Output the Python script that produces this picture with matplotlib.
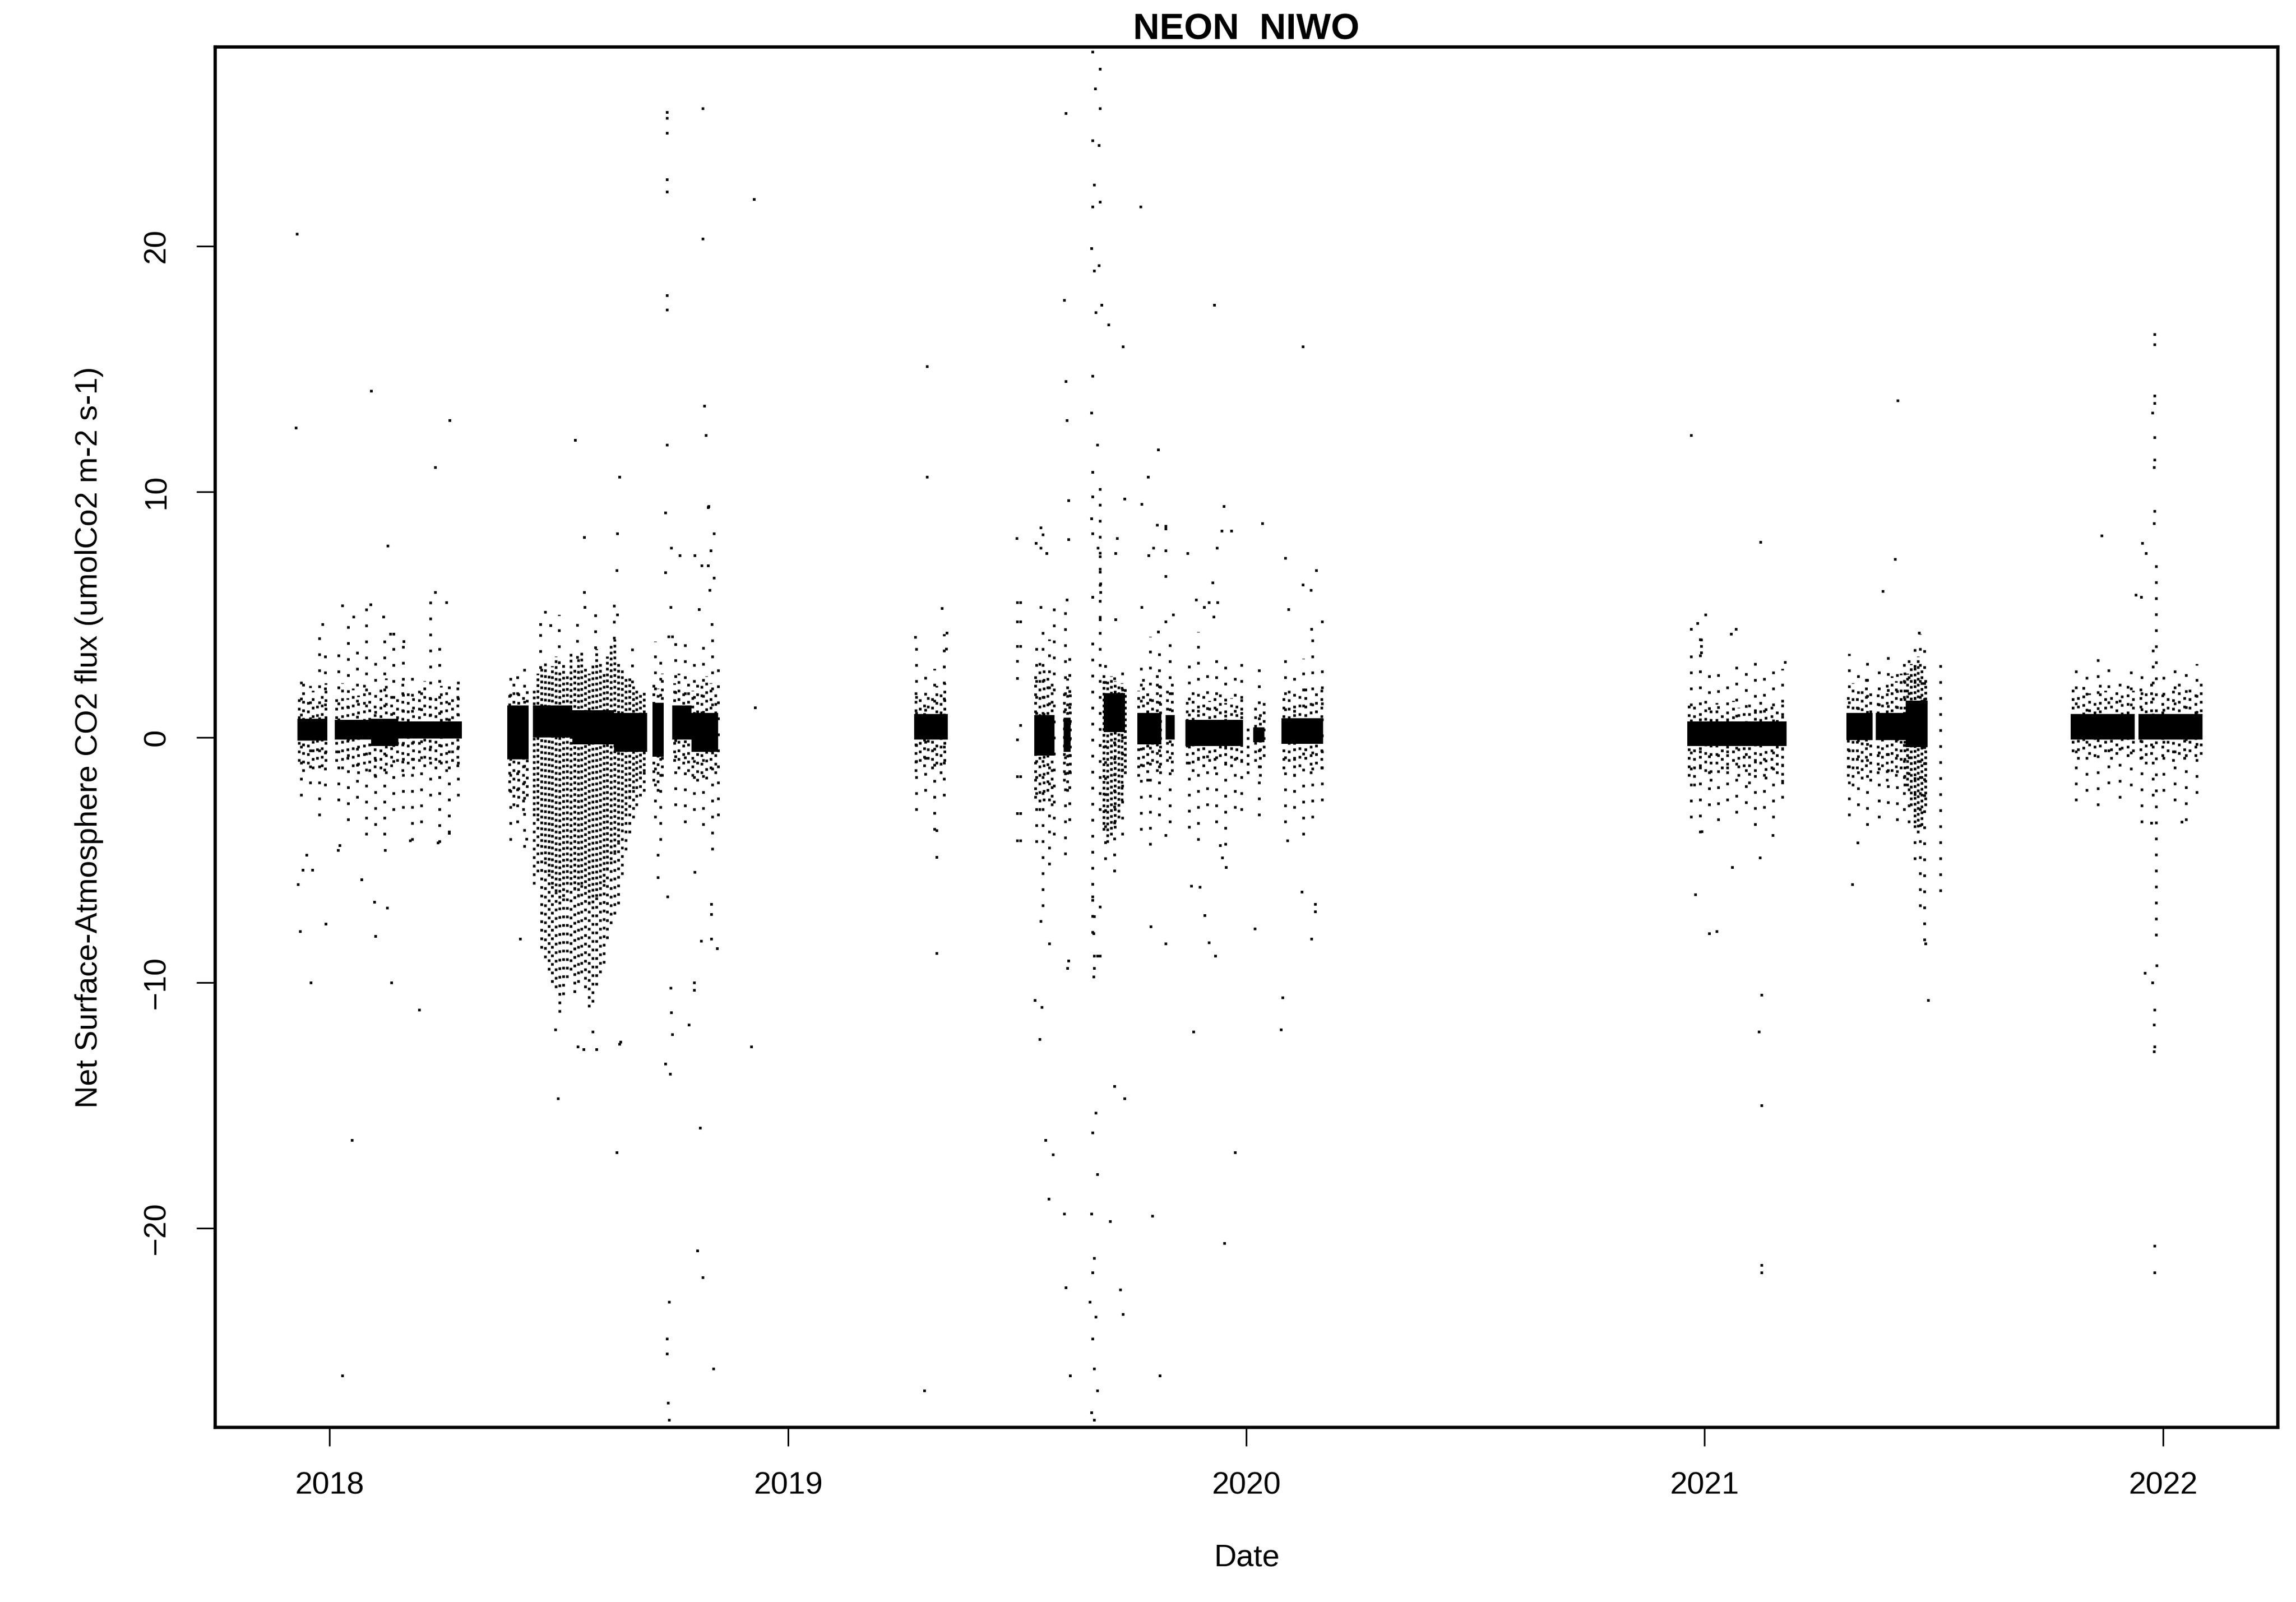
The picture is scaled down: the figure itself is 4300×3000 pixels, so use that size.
import numpy as np
import matplotlib.pyplot as plt

plt.rcParams['font.family'] = ['Liberation Sans', 'DejaVu Sans']

# time axis in decimal years, flux in umol CO2 m-2 s-1

# solid blocks of half-hourly values around zero: (start, end, low, high)
core_bands = [
    (2017.930, 2017.995, -0.15, 0.75),
    (2018.011, 2018.090, -0.10, 0.70),
    (2018.090, 2018.150, -0.35, 0.75),
    (2018.150, 2018.289, -0.05, 0.65),
    (2018.388, 2018.434, -0.90, 1.30),
    (2018.444, 2018.530, 0.00, 1.30),
    (2018.530, 2018.620, -0.30, 1.10),
    (2018.620, 2018.693, -0.60, 1.00),
    (2018.704, 2018.729, -0.80, 1.40),
    (2018.747, 2018.790, -0.10, 1.30),
    (2018.790, 2018.848, -0.60, 1.00),
    (2019.275, 2019.349, -0.10, 0.95),
    (2019.537, 2019.582, -0.75, 0.90),
    (2019.601, 2019.617, -0.60, 0.80),
    (2019.689, 2019.735, 0.20, 1.80),
    (2019.762, 2019.815, -0.30, 1.00),
    (2019.824, 2019.844, -0.10, 0.90),
    (2019.867, 2019.993, -0.35, 0.70),
    (2020.015, 2020.040, -0.20, 0.40),
    (2020.077, 2020.168, -0.28, 0.77),
    (2020.962, 2021.179, -0.35, 0.65),
    (2021.309, 2021.367, -0.13, 0.98),
    (2021.374, 2021.439, -0.13, 0.98),
    (2021.439, 2021.487, -0.40, 1.50),
    (2021.799, 2021.939, -0.10, 0.95),
    (2021.947, 2022.087, -0.10, 0.95),
]

# columns where points almost touch: (year, low, high)
packed_cols = [
    # summer 2018 uptake cloud
    (2018.446, -3.0, 2.0), (2018.454, -3.2, 2.6), (2018.462, -4.5, 2.8), (2018.470, -5.0, 3.1),
    (2018.478, -5.5, 2.6), (2018.486, -6.0, 2.9), (2018.494, -6.3, 3.3), (2018.502, -6.8, 2.7),
    (2018.510, -6.5, 3.0), (2018.518, -6.0, 2.5), (2018.526, -5.8, 3.4), (2018.534, -6.2, 2.8),
    (2018.542, -6.5, 3.2), (2018.550, -6.0, 3.5), (2018.558, -6.4, 2.9), (2018.566, -6.8, 2.6),
    (2018.574, -7.0, 3.0), (2018.582, -6.5, 3.6), (2018.590, -6.2, 3.0), (2018.598, -5.9, 2.7),
    (2018.606, -5.4, 3.3), (2018.614, -5.0, 3.8), (2018.622, -4.7, 4.0), (2018.630, -4.3, 3.1),
    (2018.638, -3.6, 2.8), (2018.646, -3.0, 2.5), (2018.654, -2.5, 2.4), (2018.662, -2.1, 2.2),
    (2018.670, -1.8, 2.0), (2018.678, -1.5, 1.8), (2018.686, -1.4, 1.9),
    # Sep 2019 uptake streak
    (2019.689, -3.8, 2.6), (2019.697, -4.3, 2.4), (2019.705, -4.0, 2.5), (2019.713, -3.7, 2.3),
    (2019.721, -3.3, 2.2), (2019.729, -2.6, 2.2), (2019.736, -1.5, 2.0),
    # Jun 2021 uptake streak
    (2021.442, -2.0, 2.6), (2021.450, -2.8, 3.0), (2021.458, -3.5, 2.9), (2021.466, -3.9, 3.3),
    (2021.474, -3.6, 2.8), (2021.482, -2.8, 2.4),
]

# daily columns where points are fairly close: (year, low, high)
dense_cols = [
    # Dec 2017
    (2017.933, -1.0, 1.8), (2017.943, -1.4, 2.3), (2017.953, -1.1, 1.6), (2017.963, -1.3, 1.9),
    (2017.973, -0.9, 1.4), (2017.983, -1.2, 1.8), (2017.992, -1.0, 2.2),
    # Jan-Apr 2018
    (2018.015, -1.0, 1.8), (2018.027, -1.3, 2.2), (2018.039, -0.9, 1.6), (2018.051, -1.2, 2.0),
    (2018.063, -1.5, 1.7), (2018.075, -1.1, 2.3), (2018.087, -1.4, 1.9), (2018.099, -1.6, 1.5),
    (2018.111, -1.3, 2.1), (2018.123, -1.5, 2.4), (2018.135, -1.2, 1.8), (2018.147, -1.0, 1.6),
    (2018.159, -1.4, 2.2), (2018.171, -1.1, 1.9), (2018.183, -1.3, 1.7), (2018.195, -1.0, 2.0),
    (2018.207, -1.2, 2.3), (2018.219, -0.9, 1.8), (2018.231, -1.3, 1.6), (2018.243, -1.1, 2.1),
    (2018.255, -1.4, 1.9), (2018.267, -1.0, 1.7), (2018.279, -1.2, 2.2),
    # late May 2018
    (2018.392, -2.2, 1.9), (2018.402, -2.8, 2.2), (2018.412, -2.5, 2.0), (2018.422, -3.0, 1.8),
    (2018.431, -2.4, 2.1),
    # lower part of the summer 2018 cloud
    (2018.446, -6.0, -3.0), (2018.454, -5.5, -3.2), (2018.462, -8.6, -4.5), (2018.470, -9.0, -5.0),
    (2018.478, -9.5, -5.5), (2018.486, -10.0, -6.0), (2018.494, -10.2, -6.3), (2018.502, -11.2, -6.8),
    (2018.510, -10.5, -6.5), (2018.518, -9.8, -6.0), (2018.526, -9.5, -5.8), (2018.534, -10.4, -6.2),
    (2018.542, -10.0, -6.5), (2018.550, -9.6, -6.0), (2018.558, -10.2, -6.4), (2018.566, -11.0, -6.8),
    (2018.574, -10.8, -7.0), (2018.582, -10.1, -6.5), (2018.590, -9.6, -6.2), (2018.598, -9.2, -5.9),
    (2018.606, -8.2, -5.4), (2018.614, -7.6, -5.0), (2018.622, -7.2, -4.7), (2018.630, -6.8, -4.3),
    (2018.638, -5.6, -3.6), (2018.646, -4.6, -3.0), (2018.654, -3.9, -2.5), (2018.662, -3.3, -2.1),
    (2018.670, -2.8, -1.8), (2018.678, -2.4, -1.5), (2018.686, -2.2, -1.4),
    # Sep-Nov 2018
    (2018.707, -1.8, 2.3), (2018.716, -2.2, 2.0), (2018.725, -1.6, 2.6),
    (2018.752, -1.0, 2.2), (2018.762, -1.3, 2.6), (2018.772, -1.1, 2.0), (2018.782, -1.4, 2.4),
    (2018.792, -1.6, 1.9), (2018.802, -1.8, 2.3), (2018.812, -1.5, 2.1), (2018.822, -1.7, 2.5),
    (2018.832, -1.3, 2.2), (2018.842, -1.5, 1.8),
    # Apr 2019
    (2019.279, -1.4, 2.0), (2019.288, -1.0, 1.7), (2019.297, -1.2, 1.5), (2019.306, -0.9, 1.8),
    (2019.315, -1.3, 1.6), (2019.324, -1.1, 2.1), (2019.333, -1.5, 1.9), (2019.342, -1.0, 2.2),
    # Jul-Nov 2019
    (2019.540, -2.5, 2.6), (2019.549, -3.0, 3.2), (2019.558, -2.6, 2.9), (2019.567, -2.2, 2.5),
    (2019.576, -2.8, 2.2),
    (2019.603, -1.8, 1.9), (2019.610, -2.2, 2.4), (2019.616, -1.5, 2.0),
    (2019.765, -1.6, 1.9), (2019.775, -1.2, 2.5), (2019.785, -1.8, 2.0), (2019.795, -1.0, 1.7),
    (2019.805, -1.4, 2.6), (2019.812, -1.5, 2.2),
    (2019.828, -1.0, 1.9), (2019.838, -1.4, 2.3),
    (2019.871, -1.1, 1.6), (2019.883, -1.4, 1.9), (2019.895, -0.9, 1.4), (2019.907, -1.2, 1.8),
    (2019.919, -1.0, 1.5), (2019.931, -1.3, 1.7), (2019.943, -0.8, 2.0), (2019.955, -1.1, 1.4),
    (2019.967, -1.2, 1.6), (2019.979, -0.9, 1.5), (2019.990, -1.0, 1.8),
    (2020.004, -1.5, 0.4),
    (2020.020, -1.0, 1.2), (2020.030, -1.6, 1.0), (2020.038, -0.8, 1.4),
    (2020.081, -1.3, 1.7), (2020.093, -1.0, 2.0), (2020.105, -1.6, 1.5), (2020.117, -1.2, 1.9),
    (2020.129, -0.9, 2.2), (2020.141, -1.5, 1.6), (2020.153, -1.1, 1.8), (2020.164, -1.3, 2.0),
    # Dec 2020 - Mar 2021
    (2020.966, -1.6, 1.3), (2020.978, -2.0, 1.5), (2020.990, -1.2, 1.1), (2021.002, -1.4, 1.6),
    (2021.014, -1.8, 1.2), (2021.026, -1.1, 1.4), (2021.038, -1.3, 1.0), (2021.050, -1.5, 1.3),
    (2021.062, -1.0, 1.5), (2021.074, -1.6, 1.2), (2021.086, -1.2, 1.1), (2021.098, -1.9, 1.4),
    (2021.110, -1.4, 1.3), (2021.122, -1.1, 1.6), (2021.134, -1.7, 1.2), (2021.146, -1.3, 1.5),
    (2021.158, -1.5, 1.1), (2021.170, -1.9, 1.4),
    # Apr-Jun 2021
    (2021.313, -1.6, 1.8), (2021.323, -2.0, 2.2), (2021.333, -1.3, 1.6), (2021.343, -1.7, 2.0),
    (2021.353, -1.2, 2.4), (2021.362, -1.8, 1.9),
    (2021.378, -1.5, 2.0), (2021.388, -1.2, 1.8), (2021.398, -1.8, 2.2), (2021.408, -1.4, 2.5),
    (2021.418, -1.6, 2.3), (2021.428, -1.3, 2.6), (2021.436, -2.0, 2.8),
    # Nov 2021 - Feb 2022
    (2021.803, -0.6, 2.0), (2021.815, -0.9, 1.7), (2021.827, -0.5, 2.1), (2021.839, -0.7, 1.8),
    (2021.851, -0.8, 1.6), (2021.863, -0.4, 2.2), (2021.875, -0.6, 1.9), (2021.887, -0.9, 1.7),
    (2021.899, -0.7, 2.0), (2021.911, -0.5, 1.8), (2021.923, -0.8, 2.3), (2021.935, -0.6, 1.9),
    (2021.951, -0.9, 2.1), (2021.963, -1.1, 1.8), (2021.975, -0.7, 2.2),
    (2021.999, -0.8, 1.9), (2022.011, -0.6, 1.7), (2022.023, -1.0, 2.0), (2022.035, -0.7, 2.3),
    (2022.047, -0.9, 1.8), (2022.059, -0.6, 2.1), (2022.071, -0.8, 1.9), (2022.083, -0.7, 2.2),
]

# daily columns where points are thinly scattered: (year, low, high)
sparse_cols = [
    (2017.938, -2.4, 2.6), (2017.958, -1.9, 2.1), (2017.978, -3.2, 4.5), (2017.990, -2.0, 3.4),
    (2018.020, -2.6, 3.4), (2018.040, -3.4, 4.9), (2018.060, -2.5, 3.6), (2018.080, -4.0, 5.4),
    (2018.100, -3.6, 3.2), (2018.120, -4.0, 4.2), (2018.140, -3.0, 4.2), (2018.160, -2.9, 3.9),
    (2018.180, -4.2, 2.7), (2018.200, -3.5, 2.2), (2018.220, -2.4, 5.9), (2018.240, -4.3, 4.0),
    (2018.260, -3.9, 2.6), (2018.280, -2.4, 2.6),
    (2018.395, -4.2, 2.8), (2018.410, -3.5, 2.5), (2018.425, -4.5, 3.0),
    (2018.460, 2.8, 4.6), (2018.500, 3.0, 5.0), (2018.540, 3.2, 4.8), (2018.580, 3.6, 5.3),
    (2018.620, 4.0, 5.5), (2018.660, 2.2, 3.8),
    (2018.710, -3.3, 3.9), (2018.722, -4.2, 3.5),
    (2018.755, -2.8, 4.2), (2018.775, -3.5, 3.8), (2018.795, -3.0, 3.5), (2018.815, -3.6, 4.2),
    (2018.835, -4.6, 4.0), (2018.848, -3.2, 3.2),
    (2019.280, -3.0, 4.1), (2019.300, -2.2, 2.6), (2019.320, -3.8, 2.8), (2019.340, -2.4, 4.2),
    (2019.542, -4.3, 4.1), (2019.556, -6.9, 4.6), (2019.570, -5.2, 4.0), (2019.580, -4.0, 5.3),
    (2019.605, -4.8, 5.6), (2019.614, -3.4, 3.3),
    (2019.665, -8.0, 4.0), (2019.681, -3.0, 10.0),
    (2019.692, -5.0, 3.2), (2019.712, -5.5, 3.0), (2019.730, -4.0, 3.0),
    (2019.770, -3.8, 3.0), (2019.790, -4.4, 4.1), (2019.810, -3.2, 3.5),
    (2019.833, -3.5, 3.8),
    (2019.875, -3.7, 3.4), (2019.895, -4.2, 4.3), (2019.915, -2.8, 2.9), (2019.935, -3.5, 3.6),
    (2019.955, -4.4, 3.1), (2019.975, -2.9, 2.6), (2019.990, -3.0, 3.0),
    (2020.028, -3.2, 2.9),
    (2020.085, -3.5, 3.6), (2020.105, -2.9, 2.8), (2020.125, -4.0, 3.2), (2020.145, -3.3, 4.5),
    (2020.165, -2.6, 2.9),
    (2020.970, -3.3, 3.4), (2020.990, -3.9, 4.2), (2021.010, -2.8, 2.8), (2021.030, -3.4, 3.0),
    (2021.050, -2.6, 2.6), (2021.070, -3.1, 3.1), (2021.090, -2.7, 2.9), (2021.110, -3.6, 3.3),
    (2021.130, -2.9, 2.7), (2021.150, -3.3, 3.2), (2021.170, -2.5, 2.8),
    (2021.315, -3.2, 3.4), (2021.335, -2.8, 3.0), (2021.355, -3.6, 3.1),
    (2021.380, -3.3, 3.2), (2021.400, -2.7, 3.6), (2021.420, -3.4, 3.0), (2021.435, -3.0, 3.4),
    (2021.446, -3.5, 3.4), (2021.458, -5.0, 3.8), (2021.470, -6.9, 4.2), (2021.480, -8.3, 3.6),
    (2021.514, -6.3, 3.5),
    (2021.810, -2.6, 3.0), (2021.834, -2.2, 2.6), (2021.858, -2.8, 3.3), (2021.882, -1.9, 3.1),
    (2021.906, -2.5, 2.7), (2021.930, -2.0, 3.2), (2021.954, -3.5, 2.9), (2021.978, -2.4, 3.6),
    (2021.985, -8.1, 7.3),
    (2022.002, -2.2, 3.0), (2022.026, -2.6, 3.2), (2022.050, -3.4, 2.8), (2022.074, -2.3, 3.0),
]

# single scattered values: (year, flux)
pts_2018a = [
    (2017.929, 20.5), (2017.926, 12.6), (2018.090, 14.1), (2018.127, 7.8), (2018.230, 5.9),
    (2018.230, 11.0), (2018.262, 12.9), (2018.028, -26.0), (2018.048, -16.4), (2017.959, -10.0),
    (2018.135, -10.0), (2018.195, -11.1), (2017.992, -7.6), (2018.100, -8.1), (2018.097, -6.7),
    (2018.125, -6.95), (2017.936, -7.9), (2017.931, -6.0), (2017.941, -5.4), (2017.962, -5.4),
    (2018.069, -5.8), (2017.949, -4.8), (2018.028, 5.35), (2018.089, 5.4), (2018.255, 5.5),
    (2018.117, 4.9), (2017.984, 4.6), (2018.052, 4.9), (2018.132, 4.2), (2018.140, 4.2),
    (2018.162, 3.9), (2018.018, -4.6), (2018.022, -4.4), (2018.121, -4.6), (2018.236, -4.3),
    (2018.261, -3.9), (2018.175, -4.2),
]
pts_2018b = [
    (2018.415, -8.2), (2018.536, 12.1), (2018.632, 10.6), (2018.498, -14.7), (2018.626, -16.9),
    (2018.632, -12.5), (2018.541, -12.6), (2018.554, -12.7), (2018.582, -12.7), (2018.634, -12.4),
    (2018.574, -12.0), (2018.492, -11.9), (2018.555, 8.15), (2018.628, 8.3), (2018.626, 6.8),
    (2018.555, 5.9), (2018.556, 5.3), (2018.470, 5.1), (2018.460, 4.6), (2018.482, 4.55),
    (2018.628, 5.0), (2018.430, -4.15),
    (2018.736, 25.45), (2018.736, 25.2), (2018.736, 24.6), (2018.814, 25.6), (2018.736, 22.7),
    (2018.736, 22.2), (2018.736, 18.0), (2018.736, 17.4), (2018.814, 20.3), (2018.818, 13.5),
    (2018.821, 12.3), (2018.736, 11.9), (2018.827, 9.4), (2018.733, 9.15), (2018.826, 9.35),
    (2018.839, 8.3), (2018.745, 7.7), (2018.764, 7.4), (2018.797, 7.4), (2018.832, 7.6),
    (2018.812, 7.0), (2018.826, 7.0), (2018.733, 6.7), (2018.838, 6.5), (2018.829, 6.0),
    (2018.744, 5.3), (2018.806, 5.2), (2018.834, 4.6), (2018.739, 4.1), (2018.747, 4.1),
    (2018.738, -27.1), (2018.740, -27.8), (2018.740, -23.0), (2018.736, -24.5), (2018.736, -25.1),
    (2018.802, -20.9), (2018.814, -22.0), (2018.808, -15.9), (2018.837, -25.7), (2018.784, -11.7),
    (2018.733, -13.3), (2018.743, -13.7), (2018.748, -12.1), (2018.744, -10.2), (2018.745, -11.2),
    (2018.795, -10.0), (2018.795, -10.3), (2018.845, -8.6), (2018.811, -8.3), (2018.833, -8.2),
    (2018.833, -7.2), (2018.833, -6.8), (2018.797, -5.5), (2018.737, -6.5), (2018.716, -4.8),
    (2018.716, -5.7), (2018.926, 21.9), (2018.920, -12.6), (2018.928, 1.2),
]
pts_2019 = [
    (2019.303, 15.1), (2019.303, 10.6), (2019.297, -26.6), (2019.336, 5.25), (2019.346, 4.24),
    (2019.278, 4.07), (2019.345, 3.6), (2019.324, -3.8), (2019.324, -4.87), (2019.324, -8.8),
    (2019.499, 8.1), (2019.500, 5.5), (2019.507, 5.5), (2019.500, 4.7), (2019.507, 4.7),
    (2019.500, 3.7), (2019.507, 3.7), (2019.500, 3.1), (2019.500, 2.4), (2019.507, 0.5),
    (2019.500, -0.1), (2019.500, -1.6), (2019.507, -1.6), (2019.500, -3.1), (2019.507, -3.1),
    (2019.500, -4.2), (2019.507, -4.2),
    (2019.551, 8.54), (2019.556, 8.26), (2019.541, 7.9), (2019.552, 7.7), (2019.564, 7.5),
    (2019.552, 5.3), (2019.551, -7.5), (2019.570, -8.4), (2019.539, -10.7), (2019.554, -11.0),
    (2019.549, -12.3), (2019.562, -16.4), (2019.578, -17.0), (2019.569, -18.8),
    (2019.612, 9.65), (2019.612, 8.05), (2019.608, 5.6), (2019.612, -9.1), (2019.610, -9.4),
    (2019.606, 25.4), (2019.603, 17.8), (2019.606, 14.5), (2019.609, 12.9), (2019.603, -19.4),
    (2019.606, -22.4), (2019.616, -26.0),
    (2019.665, 27.9), (2019.681, 27.2), (2019.670, 26.4), (2019.681, 25.6), (2019.665, 24.3),
    (2019.678, 24.1), (2019.668, 22.5), (2019.681, 21.8), (2019.665, 21.6), (2019.662, 19.9),
    (2019.678, 19.2), (2019.668, 19.0), (2019.684, 17.6), (2019.672, 17.3), (2019.665, 14.7),
    (2019.662, 13.2), (2019.675, 11.9), (2019.665, 10.8), (2019.681, 10.1), (2019.662, 8.9),
    (2019.665, 8.3), (2019.676, 7.7), (2019.681, 7.36), (2019.681, 6.73), (2019.682, 6.25),
    (2019.682, 5.9), (2019.664, 5.7), (2019.681, 4.8), (2019.665, 9.8),
    (2019.665, -6.5), (2019.668, -7.3), (2019.667, -8.0), (2019.668, -8.9), (2019.675, -8.9),
    (2019.681, -8.9), (2019.668, -9.4), (2019.667, -9.75), (2019.681, -6.9), (2019.671, -15.3),
    (2019.665, -16.1), (2019.675, -17.8), (2019.662, -19.4), (2019.668, -21.2), (2019.665, -21.8),
    (2019.659, -23.0), (2019.672, -23.6), (2019.665, -24.5), (2019.668, -25.7), (2019.675, -26.6),
    (2019.662, -27.5), (2019.668, -27.8),
    (2019.734, 9.7), (2019.772, 9.5), (2019.805, 8.65), (2019.824, 8.6), (2019.824, 8.5),
    (2019.824, 7.6), (2019.797, 7.7), (2019.787, 7.4), (2019.824, 6.55), (2019.772, 5.3),
    (2019.840, 5.0), (2019.808, 4.3), (2019.824, 4.7), (2019.718, 8.1), (2019.714, 7.5),
    (2019.715, 4.8), (2019.792, -7.7), (2019.824, -8.4), (2019.824, -4.0),
    (2019.699, 16.8), (2019.731, 15.9), (2019.712, -14.2), (2019.734, -14.7), (2019.703, -19.7),
    (2019.725, -22.5), (2019.731, -23.5), (2019.769, 21.6), (2019.795, -19.5), (2019.811, -26.0),
    (2019.808, 11.7), (2019.786, 10.6), (2019.930, 17.6), (2019.885, -12.0), (2019.952, -20.6),
    (2019.975, -16.9),
]
pts_2020 = [
    (2020.124, 15.9), (2020.076, -11.9),
    (2019.951, 9.4), (2019.946, 8.4), (2019.967, 8.4), (2019.936, 7.7), (2020.035, 8.7),
    (2019.872, 7.5), (2019.927, 6.3), (2019.890, 5.6), (2019.918, 5.5), (2019.937, 5.5),
    (2019.908, 5.3), (2019.929, 4.9), (2020.085, 7.3), (2020.153, 6.8), (2020.124, 6.2),
    (2020.141, 6.0), (2020.092, 5.2), (2020.165, 4.7), (2020.142, 4.4),
    (2019.880, -6.05), (2019.899, -6.1), (2019.909, -7.24), (2019.918, -8.35), (2019.932, -8.9),
    (2019.943, -4.4), (2019.948, -4.9), (2019.956, -5.3), (2020.019, -7.8), (2020.079, -10.6),
    (2020.121, -6.3), (2020.150, -6.8), (2020.150, -7.1), (2020.142, -8.2), (2020.090, -4.2),
]
pts_2021 = [
    (2021.122, 7.95), (2021.002, 5.0), (2020.984, 4.65), (2020.970, 4.4), (2021.068, 4.4),
    (2021.058, 4.2), (2020.992, 3.97), (2020.992, 3.7), (2020.992, 3.44), (2021.176, 3.05),
    (2020.994, -3.84), (2021.149, -3.98), (2021.121, -4.9), (2021.060, -5.3), (2020.980, -6.4),
    (2021.010, -8.0), (2021.026, -7.9), (2020.971, 12.3), (2021.124, -10.5), (2021.118, -12.0),
    (2021.124, -15.0), (2021.124, -21.5), (2021.124, -21.8),
    (2021.416, 7.24), (2021.389, 5.94), (2021.468, 4.26), (2021.322, -6.0), (2021.334, -4.3),
    (2021.421, 13.7), (2021.488, -10.7), (2021.482, -8.4),
]
pts_2022 = [
    (2021.866, 8.2), (2021.955, 7.9), (2021.941, 5.8), (2022.041, -3.45), (2021.975, -3.5),
    (2021.982, 16.4), (2021.982, 16.0), (2021.982, 13.9), (2021.982, 13.6), (2021.977, 13.2),
    (2021.982, 12.2), (2021.982, 11.3), (2021.980, 11.0), (2021.982, 9.2), (2021.980, 8.7),
    (2021.986, -9.3), (2021.977, -10.0), (2021.982, -11.1), (2021.980, -11.7), (2021.982, -12.6),
    (2021.980, -12.8), (2021.982, -21.8), (2021.982, -20.7), (2021.961, -9.6), (2021.963, 7.5),
    (2021.952, 5.7),
]

year_ticks = [2018, 2019, 2020, 2021, 2022]
flux_ticks = [-20, -10, 0, 10, 20]

fig = plt.figure(figsize=(43 / 3, 10), dpi=300)
ax = fig.add_axes([403 / 4300, 1 - 2673 / 3000, 3863 / 4300, 2585 / 3000])

cb = np.array(core_bands)
ax.bar(cb[:, 0], cb[:, 3] - cb[:, 2], width=cb[:, 1] - cb[:, 0], bottom=cb[:, 2],
       align='edge', color='black', linewidth=0)

# each column is a run of small square points, like R's pch='.'
for cols, gap in [(packed_cols, 1.2), (dense_cols, 2.2), (sparse_cols, 5)]:
    c = np.array(cols)
    ax.vlines(c[:, 0], c[:, 1], c[:, 2], colors='black', linewidth=1.2,
              linestyles=(0, (1, gap)))

pts = np.array(pts_2018a + pts_2018b + pts_2019 + pts_2020 + pts_2021 + pts_2022)
ax.plot(pts[:, 0], pts[:, 1], 's', ms=1.2, mew=0, color='black', linestyle='none')

ax.set_xlim(2017.7503, 2022.2508)
ax.set_ylim(-28.1, 28.1)
ax.set_xticks(year_ticks)
ax.set_xticklabels([str(y) for y in year_ticks])
ax.set_yticks(flux_ticks)
ax.tick_params(direction='out', length=8.4, width=0.75, labelsize=14, pad=11.3)
ax.tick_params(axis='y', labelrotation=90)
plt.setp(ax.get_yticklabels(), va='center')
for s in ax.spines.values():
    s.set_linewidth(1.5)

ax.set_title('NEON  NIWO', fontsize=16.5, fontweight='bold', pad=2.2)
ax.set_xlabel('Date', fontsize=14)
ax.xaxis.set_label_coords(0.5, -0.0843)
ax.set_ylabel('Net Surface-Atmosphere CO2 flux (umolCo2 m-2 s-1)', fontsize=14, va='center')
ax.yaxis.set_label_coords(-0.0611, 0.5)

fig.savefig('out.png', dpi=300)
